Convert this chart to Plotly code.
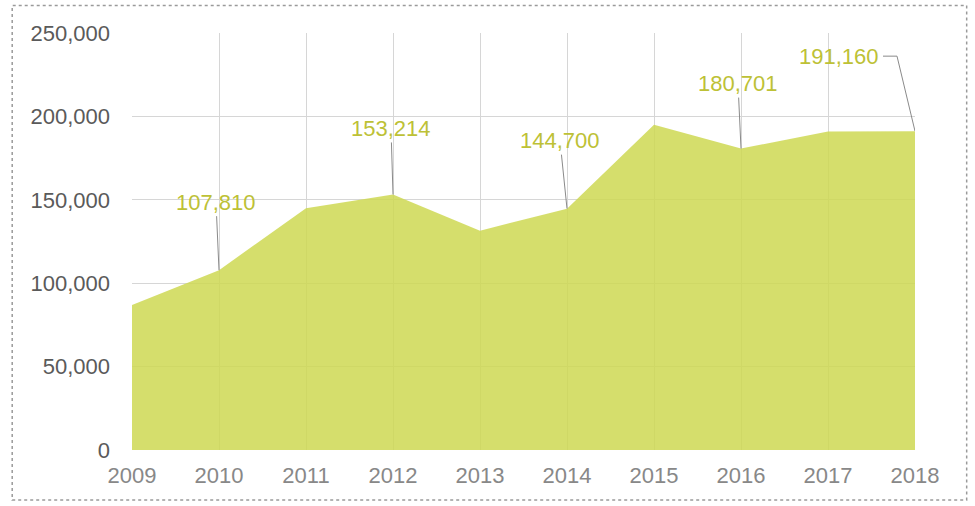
import plotly.graph_objects as go

# Yearly totals
years = [2009, 2010, 2011, 2012, 2013, 2014, 2015, 2016, 2017, 2018]
values = [87000, 107810, 145000, 153214, 131500, 144700, 195000, 180701, 191000, 191160]

# Years that carry a value label, with label offsets (pixels) from the point
label_years = [2010, 2012, 2014, 2016]
label_dx = [-3, -2, -7, -3]
label_dy = [-68, -66, -68, -65]

y_ticks = [0, 50000, 100000, 150000, 200000, 250000]

FILL = "rgba(206,216,84,0.86)"
LABEL = "#bdc136"
LEADER = "#8a8a8a"
FONT = "Liberation Sans, Arial, sans-serif"

fig = go.Figure()
fig.add_trace(go.Scatter(
    x=years, y=values, mode="lines", fill="tozeroy",
    fillcolor=FILL, line=dict(width=0, color=FILL), hoverinfo="skip",
))

annotations = []
for yr, dx, dy in zip(label_years, label_dx, label_dy):
    v = values[years.index(yr)]
    annotations.append(dict(
        x=yr, y=v, xref="x", yref="y", text=f"{v:,}",
        showarrow=True, arrowhead=0, arrowwidth=1, arrowcolor=LEADER,
        ax=dx, ay=dy, standoff=0, startstandoff=0,
        font=dict(family=FONT, size=22, color=LABEL),
    ))

# Last point: label sits up-left with an elbow leader
last_year, last_val = years[-1], values[-1]
annotations.append(dict(
    x=last_year, y=last_val, xref="x", yref="y", text=f"{last_val:,}",
    showarrow=False, xanchor="right", yanchor="middle",
    xshift=-34, yshift=75,
    font=dict(family=FONT, size=22, color=LABEL),
))

shapes = [
    dict(type="path", xref="x", yref="y",
         xsizemode="pixel", ysizemode="pixel",
         xanchor=last_year, yanchor=last_val,
         path="M -32 75 L -18 75 L 0 0",
         line=dict(color=LEADER, width=1)),
    # dotted frame around the whole chart
    dict(type="rect", xref="paper", yref="paper",
         x0=-0.153, x1=1.066, y0=-0.12, y1=1.066,
         line=dict(color="#9a9a9a", width=1.5, dash="dot"),
         fillcolor="rgba(0,0,0,0)", layer="below"),
]

fig.update_layout(
    width=975, height=506,
    margin=dict(l=132, r=60, t=33, b=56),
    paper_bgcolor="white", plot_bgcolor="white",
    showlegend=False,
    font=dict(family=FONT, size=22, color="#666666"),
    annotations=annotations, shapes=shapes,
)
fig.update_xaxes(
    range=[2009, 2018], tickvals=years, ticktext=[str(y) for y in years],
    showgrid=True, gridcolor="#d6d6d6", gridwidth=1,
    zeroline=False, showline=False, ticks="",
    tickfont=dict(family=FONT, size=22, color="#888888"),
    ticklabelstandoff=10,
)
fig.update_yaxes(
    range=[0, 250000], tickvals=y_ticks, ticktext=[f"{t:,}" for t in y_ticks],
    showgrid=True, gridcolor="#d6d6d6", gridwidth=1,
    zeroline=False, showline=False, ticks="",
    tickfont=dict(family=FONT, size=22, color="#5a5a5a"),
    ticklabelstandoff=21,
)

fig.write_html("out.html")
